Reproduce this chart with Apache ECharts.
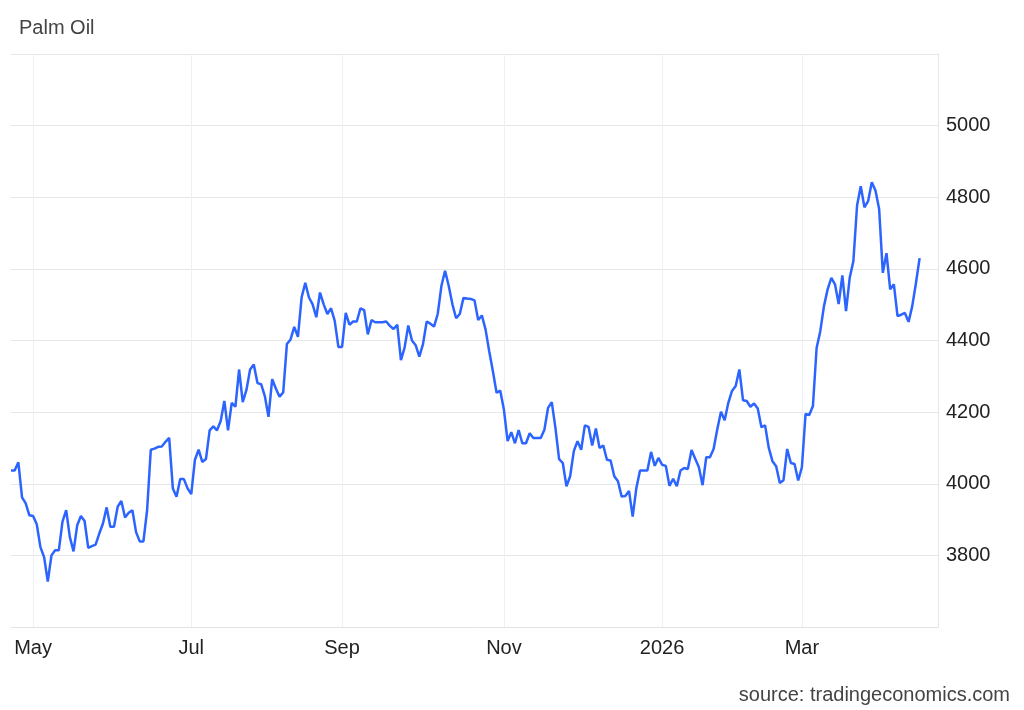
<!DOCTYPE html>
<html>
<head>
<meta charset="utf-8">
<script src="https://cdn.jsdelivr.net/npm/echarts@6/dist/echarts.min.js"></script>
<style>
  html, body { margin: 0; padding: 0; background: #ffffff; }
  #chart { width: 1024px; height: 710px; }
</style>
</head>
<body>
<div id="chart"></div>
<script>
// ---- data ----
const startDate = '2025-04-23';
const excludedDates = ['2025-07-04', '2025-08-15', '2025-08-29', '2025-10-20',
  '2026-01-01', '2026-02-02', '2026-02-17', '2026-02-18', '2026-03-20'];
const categoryCount = 253;
const monthTickLabels = {
  '2025-05': 'May', '2025-07': 'Jul', '2025-09': 'Sep',
  '2025-11': 'Nov', '2026-01': '2026', '2026-03': 'Mar'
};
const yTicks = [3600, 3800, 4000, 4200, 4400, 4600, 4800, 5000, 5200];
const prices = [
  4037, 4037, 4060, 3962, 3945, 3912, 3910, 3887, 3823, 3795,
  3727, 3800, 3814, 3814, 3894, 3926, 3851, 3811, 3884, 3910,
  3896, 3821, 3826, 3830, 3861, 3889, 3934, 3880, 3880, 3936,
  3952, 3906, 3919, 3926, 3865, 3839, 3839, 3926, 4095, 4098,
  4103, 4104, 4117, 4128, 3987, 3964, 4013, 4013, 3987, 3971,
  4067, 4095, 4061, 4069, 4149, 4160, 4149, 4175, 4231, 4149,
  4226, 4215, 4319, 4228, 4262, 4319, 4333, 4281, 4278, 4245,
  4187, 4292, 4266, 4243, 4255, 4390, 4403, 4438, 4410, 4520,
  4561, 4520, 4501, 4465, 4534, 4501, 4474, 4490, 4455, 4382,
  4382, 4477, 4444, 4453, 4453, 4490, 4485, 4417, 4457, 4451,
  4451, 4451, 4453, 4441, 4432, 4444, 4345, 4380, 4442, 4400,
  4387, 4355, 4390, 4453, 4447, 4439, 4474, 4552, 4595, 4552,
  4501, 4462, 4474, 4519, 4517, 4516, 4512, 4457, 4470, 4431,
  4370, 4314, 4254, 4260, 4207, 4119, 4144, 4113, 4150, 4113,
  4113, 4141, 4128, 4128, 4128, 4151, 4212, 4228, 4156, 4069,
  4058, 3993, 4021, 4091, 4119, 4095, 4163, 4159, 4107, 4154,
  4100, 4107, 4067, 4065, 4021, 4007, 3964, 3966, 3980, 3908,
  3988, 4037, 4037, 4037, 4089, 4050, 4072, 4053, 4050, 3994,
  4014, 3993, 4037, 4044, 4041, 4094, 4070, 4046, 3996, 4074,
  4074, 4097, 4152, 4201, 4177, 4226, 4259, 4273, 4319, 4233,
  4231, 4215, 4224, 4210, 4158, 4163, 4100, 4063, 4049, 4002,
  4010, 4097, 4058, 4055, 4009, 4046, 4195, 4192, 4217, 4379,
  4426, 4496, 4543, 4575, 4557, 4502, 4582, 4482, 4575, 4622,
  4777, 4831, 4772, 4789, 4842, 4819, 4767, 4589, 4644, 4543,
  4557, 4468, 4472, 4477, 4452, 4496, 4560, 4630
];

// ---- build trading-day categories ----
const categories = [];
(function () {
  const d = new Date(startDate + 'T00:00:00Z');
  while (categories.length < categoryCount) {
    const day = d.getUTCDay();
    const iso = d.toISOString().slice(0, 10);
    if (day !== 0 && day !== 6 && excludedDates.indexOf(iso) < 0) categories.push(iso);
    d.setUTCDate(d.getUTCDate() + 1);
  }
})();

function isMonthTick(idx) {
  if (idx <= 0) return false;
  const m = categories[idx].slice(0, 7);
  const pm = categories[idx - 1].slice(0, 7);
  return m !== pm && monthTickLabels[m] !== undefined;
}

const chart = echarts.init(document.getElementById('chart'));
chart.setOption({
  animation: false,
  backgroundColor: '#ffffff',
  textStyle: { fontFamily: 'Liberation Sans, Arial, sans-serif' },
  title: [
    {
      text: 'Palm Oil', left: 14, top: 13,
      textStyle: { fontSize: 20, fontWeight: 'normal', color: '#444444' }
    },
    {
      text: 'source: tradingeconomics.com', right: 9, top: 680,
      textStyle: { fontSize: 20, fontWeight: 'normal', color: '#444444' }
    }
  ],
  grid: { left: 11, right: 86, top: 54, bottom: 83, containLabel: false },
  xAxis: {
    type: 'category',
    data: categories,
    boundaryGap: false,
    axisLine: { show: true, lineStyle: { color: '#e3e3e3', width: 1 } },
    axisTick: { show: false },
    axisLabel: {
      interval: function (idx) { return isMonthTick(idx); },
      formatter: function (v) { return monthTickLabels[v.slice(0, 7)] || ''; },
      color: '#222222', fontSize: 20, margin: 11
    },
    splitLine: {
      show: true,
      interval: function (idx) { return isMonthTick(idx); },
      lineStyle: { color: '#edf1f5', width: 1 }
    }
  },
  yAxis: {
    type: 'value',
    position: 'right',
    min: yTicks[0],
    max: yTicks[yTicks.length - 1],
    interval: yTicks[1] - yTicks[0],
    axisLine: { show: true, lineStyle: { color: '#e6e6e6' } },
    axisTick: { show: false },
    axisLabel: {
      showMinLabel: false, showMaxLabel: false,
      formatter: function (v) { return String(v); },
      color: '#222222', fontSize: 20, margin: 8
    },
    splitLine: { show: true, lineStyle: { color: '#e6e6e6', width: 1 } }
  },
  series: [{
    type: 'line',
    data: prices,
    showSymbol: false,
    symbol: 'none',
    lineStyle: { color: '#2c64ff', width: 2.5 },
    itemStyle: { color: '#2c64ff' }
  }]
});
</script>
</body>
</html>
